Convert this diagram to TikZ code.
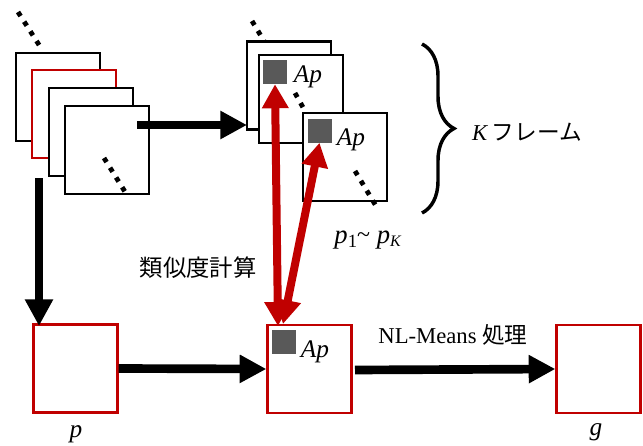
\documentclass[tikz,border=0pt]{standalone}
\usepackage{fontspec}
\setmainfont{Liberation Serif}
\newfontfamily\jpfont{Noto Sans CJK JP}
\usetikzlibrary{arrows.meta,decorations.pathreplacing}
\definecolor{myred}{HTML}{C00000}
\definecolor{patchgray}{HTML}{595959}
\begin{document}
\begin{tikzpicture}[x=0.75pt,y=-0.75pt,
  frame/.style={draw=black,line width=1.7pt,fill=white,minimum width=63pt,minimum height=66pt,inner sep=0pt},
  rframe/.style={frame,draw=myred},
  patch/.style={fill=patchgray,minimum size=18pt,inner sep=0pt},
  dots/.style={line width=3.6pt,dash pattern=on 3.6pt off 5pt},
  bigarrow/.style={line width=6.5pt,-{Triangle[length=20pt,width=20pt]}},
  redarrow/.style={draw=myred,line width=6pt,{Triangle[length=18pt,width=19pt]}-{Triangle[length=18pt,width=19pt]}},
  lbl/.style={inner sep=0pt},
  itl/.style={lbl,font=\fontsize{19}{19}\selectfont\itshape}]
\useasboundingbox (0,0) rectangle (643,446);

% left stack
\draw[dots] (18,12) -- (41,48);
\node[frame]  (L1) at (58,97) {};
\node[rframe] (L2) at (74,114) {};
\node[frame]  (L3) at (91,132) {};
\node[frame]  (L4) at (107,150) {};
\draw[dots] (104,158) -- (127,195);

% top stack
\draw[dots] (252,21) -- (264,41);
\node[frame] (T1) at (289,85.5) {};
\node[frame] (T2) at (301,99) {};
\node[patch] (P2) at (275,72) {};
\node[itl] (ap1) at (308,77) {Ap};
\draw[dots] (295,93) -- (305,111);
\node[frame] (T3) at (345,157) {};
\node[patch] (P3) at (319.5,130.5) {};
\node[itl] (ap2) at (351,140) {Ap};
\draw[dots] (355,171) -- (376,206);

% brace
\draw[decorate,decoration={brace,amplitude=24pt},line width=2.6pt] (422,44) -- (422,213);
\node[lbl,font=\fontsize{17}{17}\selectfont] (kf) at (527,132) {\textit{K}\,{\jpfont フレーム}};

% bottom row
\node[rframe] (P) at (75.5,368.5) {};
\node[rframe] (M) at (309.5,369) {};
\node[rframe] (G) at (598.5,369) {};
\node[patch] (PM) at (284,341.5) {};
\node[itl] (ap3) at (315,352) {Ap};
\node[itl] (plbl) at (76,434) {p};
\node[itl] (glbl) at (596,432) {g};

% labels
\node[lbl,font=\fontsize{17.5}{17.5}\selectfont\jpfont] (sim) at (198,268) {類似度計算};
\node[lbl,font=\fontsize{20}{20}\selectfont] (pk) at (368,240) {\textit{p}\raisebox{-3pt}{\fontsize{14}{14}\selectfont 1}\raisebox{1pt}{\fontsize{18}{18}\selectfont\char`\~}\ \textit{p}\raisebox{-2pt}{\fontsize{12}{12}\selectfont\textit{K}}};
\node[lbl,font=\fontsize{17}{17}\selectfont] (nlm) at (453,335) {NL-Means {\jpfont 処理}};

% black arrows
\coordinate (a1s) at (39,178);
\coordinate (a1e) at (39,326);
\draw[bigarrow] (a1s) -- (a1e);
\coordinate (a2s) at (137,125);
\coordinate (a2e) at (247,125);
\draw[bigarrow] (a2s) -- (a2e);
\draw[bigarrow] (P.east) -- (M.west);
\coordinate (a4s) at (355,370);
\draw[bigarrow] (a4s) -- (G.west);

% red arrows
\coordinate (r1b) at (278,326);
\coordinate (r2b) at (283,324);
\draw[redarrow] (P2.south) -- (r1b);
\draw[redarrow] (P3.south) -- (r2b);
\end{tikzpicture}
\end{document}
